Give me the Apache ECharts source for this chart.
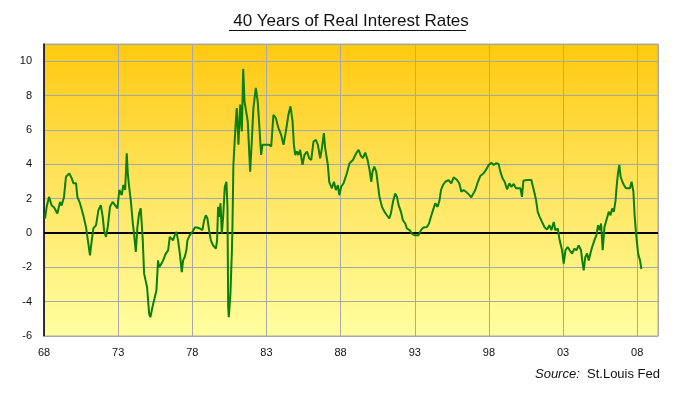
<!DOCTYPE html>
<html>
<head>
<meta charset="utf-8">
<script src="https://cdn.jsdelivr.net/npm/echarts@6/dist/echarts.min.js"></script>
<style>
html,body{margin:0;padding:0;background:#fff;}
#chart{width:680px;height:394px;}
</style>
</head>
<body>
<div id="chart"></div>
<script>
// Decimal years (x) and real interest rate in % (y)
const years = [
1968.07,1968.18,1968.34,1968.52,1968.67,1968.9,1969.08,1969.19,1969.35,1969.48,1969.71,1969.87,1969.98,
1970.16,1970.25,1970.43,1970.65,1970.83,1970.99,1971.1,1971.22,1971.33,1971.51,1971.67,1971.83,1971.96,
1972.05,1972.18,1972.3,1972.45,1972.63,1972.79,1972.95,1973.08,1973.24,1973.35,1973.47,1973.58,1973.65,
1973.74,1973.85,1973.99,1974.07,1974.19,1974.3,1974.41,1974.52,1974.59,1974.66,1974.75,1974.95,1975.09,
1975.17,1975.31,1975.47,1975.58,1975.69,1975.76,1975.92,1976.03,1976.21,1976.37,1976.48,1976.59,1976.7,
1976.82,1976.93,1977.04,1977.16,1977.29,1977.38,1977.49,1977.6,1977.67,1977.83,1978.01,1978.17,1978.32,
1978.51,1978.68,1978.8,1978.91,1979.02,1979.13,1979.25,1979.4,1979.59,1979.67,1979.74,1979.81,1979.9,
1979.99,1980.08,1980.19,1980.3,1980.37,1980.42,1980.46,1980.57,1980.67,1980.71,1980.77,1980.93,1981.0,
1981.11,1981.23,1981.34,1981.43,1981.52,1981.61,1981.74,1981.9,1982.01,1982.12,1982.28,1982.41,1982.5,
1982.64,1982.73,1982.86,1983.03,1983.18,1983.32,1983.47,1983.63,1983.81,1983.99,1984.15,1984.31,1984.48,
1984.62,1984.76,1984.85,1984.94,1985.05,1985.16,1985.27,1985.43,1985.56,1985.73,1985.88,1986.02,1986.17,
1986.33,1986.47,1986.62,1986.74,1986.87,1986.96,1987.14,1987.23,1987.41,1987.55,1987.68,1987.82,1987.91,
1988.04,1988.2,1988.42,1988.6,1988.83,1989.05,1989.21,1989.37,1989.5,1989.66,1989.82,1989.95,1990.07,
1990.15,1990.27,1990.4,1990.52,1990.62,1990.79,1990.96,1991.12,1991.28,1991.39,1991.53,1991.68,1991.8,
1991.91,1992.07,1992.2,1992.36,1992.47,1992.65,1992.81,1992.97,1993.1,1993.26,1993.42,1993.59,1993.82,
1993.96,1994.09,1994.23,1994.38,1994.54,1994.67,1994.77,1994.9,1995.06,1995.28,1995.46,1995.62,1995.85,
1996.0,1996.14,1996.29,1996.45,1996.63,1996.81,1996.9,1997.08,1997.26,1997.42,1997.64,1997.8,1997.98,
1998.16,1998.32,1998.48,1998.65,1998.77,1998.92,1999.06,1999.22,1999.38,1999.51,1999.67,1999.83,1999.96,
2000.12,2000.23,2000.32,2000.57,2000.86,2000.97,2001.08,2001.18,2001.29,2001.42,2001.58,2001.76,2001.92,
2002.08,2002.21,2002.37,2002.48,2002.64,2002.77,2002.93,2003.04,2003.16,2003.31,2003.45,2003.61,2003.76,
2003.9,2004.05,2004.21,2004.32,2004.39,2004.5,2004.62,2004.73,2004.84,2004.96,2005.11,2005.25,2005.36,
2005.47,2005.56,2005.67,2005.79,2005.92,2006.08,2006.2,2006.31,2006.42,2006.54,2006.61,2006.7,2006.79,
2006.88,2007.0,2007.1,2007.24,2007.37,2007.51,2007.62,2007.74,2007.83,2007.92,2008.06,2008.19,2008.28
];
const rates = [
0.84,1.52,2.1,1.6,1.5,1.13,1.8,1.6,2.1,3.27,3.47,3.18,2.9,
2.9,2.1,1.72,1.03,0.35,-0.62,-1.3,-0.43,0.26,0.45,1.33,1.62,0.94,
0.16,-0.23,0.35,1.52,1.81,1.62,1.43,2.5,2.2,2.79,2.5,4.64,3.47,
2.69,1.91,0.55,-0.04,-1.11,0.35,1.13,1.43,0.55,-0.43,-2.37,-3.16,-4.71,
-4.91,-4.33,-3.74,-3.35,-1.6,-1.99,-1.79,-1.6,-1.2,-1.01,-0.23,-0.13,-0.43,
-0.13,0.06,-0.43,-1.2,-2.28,-1.6,-1.4,-1.01,-0.43,-0.13,0.06,0.32,0.32,
0.26,0.16,0.74,1.03,0.84,0.16,-0.43,-0.72,-0.91,-0.43,1.52,0.94,1.72,
-0.04,0.94,2.69,2.98,1.52,-4.33,-4.91,-3.54,-1.01,0.55,3.96,6.49,7.27,
5.13,7.47,5.91,9.55,7.66,7.76,6.49,3.57,5.32,7.27,8.44,7.66,6.49,
4.54,5.13,5.03,5.13,5.13,5.03,6.88,6.69,6.1,5.71,5.13,5.91,6.88,
7.37,6.49,5.13,4.54,4.74,4.54,4.84,3.96,4.54,4.74,4.35,4.25,5.32,
5.42,5.13,4.35,4.94,5.81,4.94,3.96,2.98,2.6,2.98,2.5,2.79,2.2,
2.69,2.89,3.47,4.06,4.25,4.64,4.84,4.49,4.35,4.68,4.25,3.67,2.98,
3.57,3.86,3.57,2.79,2.1,1.52,1.23,1.03,0.84,1.13,1.81,2.3,2.1,
1.62,1.23,0.74,0.55,0.26,0.16,-0.04,-0.13,-0.23,-0.13,0.16,0.32,0.35,
0.55,0.94,1.33,1.72,1.52,1.91,2.5,2.79,2.98,3.08,2.89,3.24,3.08,
2.89,2.4,2.5,2.4,2.26,2.07,2.1,2.5,2.98,3.32,3.47,3.67,3.96,
4.09,3.96,4.06,4.02,3.57,3.18,2.98,2.54,2.89,2.69,2.85,2.6,2.69,
2.6,2.1,3.04,3.08,3.08,2.69,2.3,1.91,1.23,0.94,0.64,0.32,0.2,
0.45,0.16,0.64,0.16,0.26,-0.43,-1.01,-1.79,-1.01,-0.82,-1.01,-1.2,-0.91,
-1.01,-0.72,-1.01,-1.79,-2.18,-1.4,-1.2,-1.6,-1.2,-0.82,-0.43,-0.13,0.45,
0.16,0.55,-1.01,0.35,0.74,1.23,1.03,1.43,1.23,1.91,2.69,3.47,3.96,
3.27,2.98,2.79,2.6,2.69,2.6,2.98,2.4,0.94,-0.04,-1.2,-1.6,-2.1
];
const startYear = 1968;
const yTicks = [-6,-4,-2,0,2,4,6,8,10];
const titleText = '40 Years of Real Interest Rates';

const chart = echarts.init(document.getElementById('chart'), null, {renderer:'canvas'});
const seriesData = years.map((y,i)=>[y - startYear, rates[i]]);
const font = 'Liberation Sans, Arial, sans-serif';

chart.setOption({
  animation:false,
  backgroundColor:'#ffffff',
  title:{
    text: titleText,
    left: 346, top: 8, textAlign:'center',
    textStyle:{fontFamily:font, fontSize:17, fontWeight:'normal', color:'#111'}
  },
  graphic:[
    {type:'line', shape:{x1:229, y1:30.5, x2:466, y2:30.5}, style:{stroke:'#111', lineWidth:1}, silent:true},
    {type:'text', right:20, top:368, style:{
      text:'{i|Source:}  St.Louis Fed', fontFamily:font, fontSize:13, fill:'#111',
      rich:{i:{fontStyle:'italic', fontFamily:font, fontSize:13, fill:'#111'}}
    }}
  ],
  grid:{
    left:44, right:22, top:44, bottom:58, show:true,
    borderColor:'#A8A8A8', borderWidth:1,
    backgroundColor: new echarts.graphic.LinearGradient(0,0,0,1,[
      {offset:0, color:'#FFC90E'},
      {offset:0.5, color:'#FFE561'},
      {offset:1, color:'#FFFFA0'}
    ])
  },
  xAxis:{
    type:'value', min:0, max:41.4, interval:5,
    axisLine:{show:true, onZero:false, lineStyle:{color:'#A8A8A8', width:1}},
    axisTick:{show:false},
    splitLine:{show:true, lineStyle:{color:'#A8A8A8', width:1}},
    axisLabel:{
      margin:11, color:'#111', fontFamily:font, fontSize:11,
      showMaxLabel:false,
      formatter:v=>{ if (Math.abs(v%5)>1e-6) return ''; return String((startYear+v)%100).padStart(2,'0'); }
    }
  },
  yAxis:{
    type:'value', min:-6, max:11, interval:2,
    axisLine:{show:true, lineStyle:{color:'#000', width:1.5}},
    axisTick:{show:false},
    splitLine:{show:true, lineStyle:{color:'#A8A8A8', width:1}},
    axisLabel:{
      margin:12, color:'#111', fontFamily:font, fontSize:11,
      formatter:v=> yTicks.indexOf(v) >= 0 ? String(v) : ''
    }
  },
  series:[{
    type:'line', data:seriesData, symbol:'none', smooth:false,
    lineStyle:{color:'#0A800A', width:2},
    markLine:{
      silent:true, symbol:['none','none'], label:{show:false},
      lineStyle:{color:'#000', width:2, type:'solid'},
      data:[{yAxis:0}],
      z:1
    },
    z:3
  }]
});
</script>
</body>
</html>
